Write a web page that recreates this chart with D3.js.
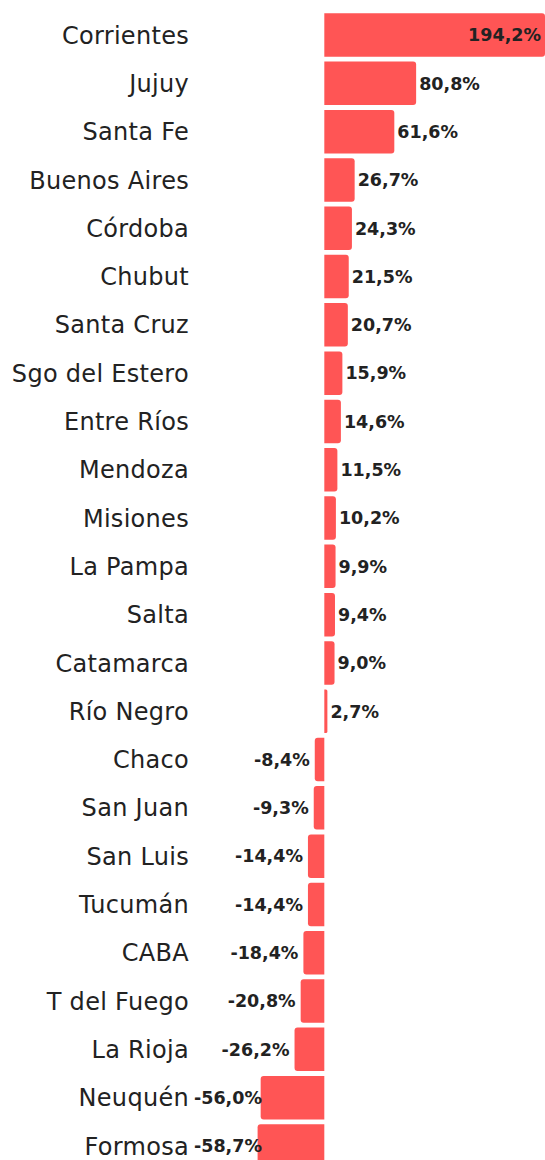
<!DOCTYPE html>
<html>
<head>
<meta charset="utf-8">
<script src="https://cdn.jsdelivr.net/npm/d3@7"></script>
<style>
  body { margin: 0; background: #fff; }
  svg { display: block; }
  .cat { font-family: "DejaVu Sans", sans-serif; font-size: 24px; letter-spacing: 0.3px; fill: #222; }
  .val { font-family: "DejaVu Sans", sans-serif; font-size: 17.5px; font-weight: 700; fill: #222; }
</style>
</head>
<body>
<div id="chart"></div>
<script>
// --- données ---
const provincias = ["Corrientes", "Jujuy", "Santa Fe", "Buenos Aires", "Córdoba", "Chubut",
  "Santa Cruz", "Sgo del Estero", "Entre Ríos", "Mendoza", "Misiones", "La Pampa", "Salta",
  "Catamarca", "Río Negro", "Chaco", "San Juan", "San Luis", "Tucumán", "CABA",
  "T del Fuego", "La Rioja", "Neuquén", "Formosa"];
const variacion = [194.2, 80.8, 61.6, 26.7, 24.3, 21.5, 20.7, 15.9, 14.6, 11.5, 10.2, 9.9, 9.4,
  9.0, 2.7, -8.4, -9.3, -14.4, -14.4, -18.4, -20.8, -26.2, -56.0, -58.7];

const largeur = 545;
const hauteur = 1160;
const couleur = "#ff5555";

const data = provincias.map((p, i) => ({ nom: p, v: variacion[i] }));

const svg = d3.select("#chart").append("svg")
  .attr("width", largeur)
  .attr("height", hauteur);

// échelles
const x = d3.scaleLinear()
  .domain([-58.7, 194.2])
  .range([257.6, 545]);

const y = d3.scaleBand()
  .domain(provincias)
  .range([10.9, 10.9 + 24 * 48.3])
  .paddingInner(0.1)
  .paddingOuter(0.05);

const r = 3;
// barre avec coins arrondis du côté de la valeur
function barre(d) {
  const x0 = x(0), x1 = x(d.v), y0 = y(d.nom), h = y.bandwidth();
  const rr = Math.min(r, Math.abs(x1 - x0) / 2);
  if (d.v >= 0) {
    return `M${x0},${y0}H${x1 - rr}Q${x1},${y0} ${x1},${y0 + rr}V${y0 + h - rr}Q${x1},${y0 + h} ${x1 - rr},${y0 + h}H${x0}Z`;
  }
  return `M${x0},${y0}H${x1 + rr}Q${x1},${y0} ${x1},${y0 + rr}V${y0 + h - rr}Q${x1},${y0 + h} ${x1 + rr},${y0 + h}H${x0}Z`;
}

svg.append("g").selectAll("path")
  .data(data)
  .join("path")
  .attr("d", barre)
  .attr("fill", couleur);

// noms des provinces
svg.append("g").selectAll("text")
  .data(data)
  .join("text")
  .attr("class", "cat")
  .attr("x", 189)
  .attr("y", d => y(d.nom) + y.bandwidth() / 2)
  .attr("dy", "0.36em")
  .attr("text-anchor", "end")
  .text(d => d.nom);

// valeurs
const fmt = v => v.toFixed(1).replace(".", ",") + "%";
svg.append("g").selectAll("text")
  .data(data)
  .join("text")
  .attr("class", "val")
  .attr("y", d => y(d.nom) + y.bandwidth() / 2)
  .attr("dy", "0.36em")
  .text(d => fmt(d.v))
  .each(function(d) {
    const t = d3.select(this);
    const w = this.getComputedTextLength();
    if (d.v >= 0) {
      if (x(d.v) + 3 + w > largeur) {
        t.attr("x", x(d.v) - 4).attr("text-anchor", "end");
      } else {
        t.attr("x", x(d.v) + 3).attr("text-anchor", "start");
      }
    } else {
      const debut = Math.max(x(d.v) - 5 - w, 194);
      t.attr("x", debut).attr("text-anchor", "start");
    }
  });
</script>
</body>
</html>
